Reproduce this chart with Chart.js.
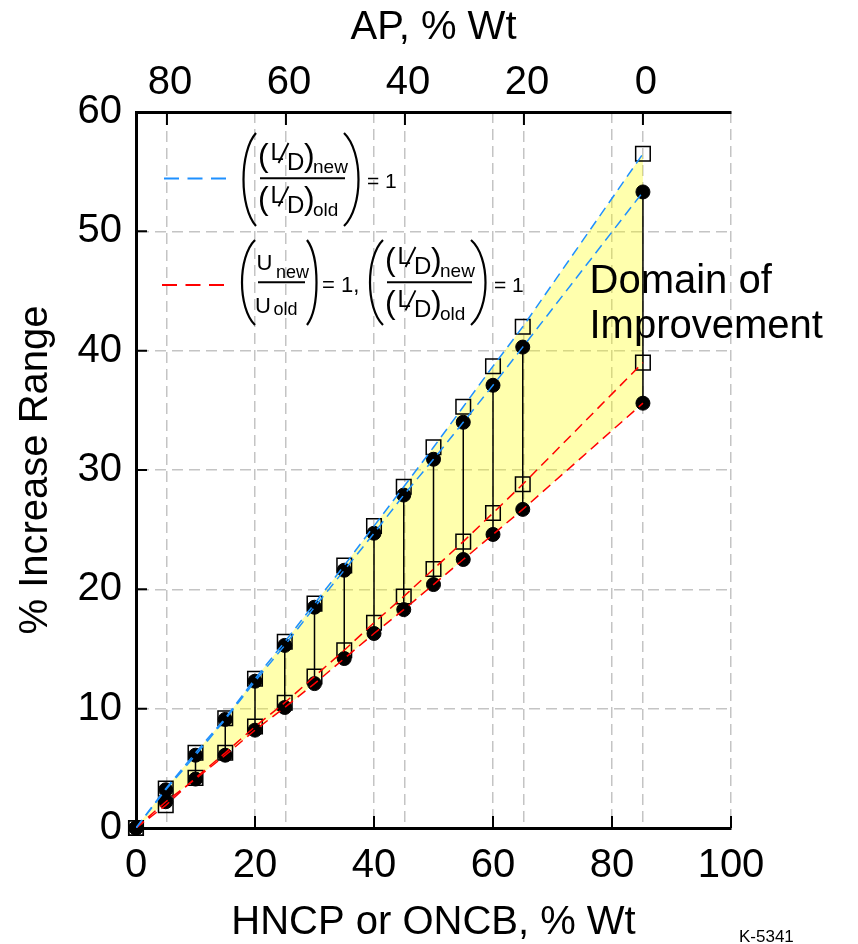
<!DOCTYPE html>
<html>
<head>
<meta charset="utf-8">
<title>% Increase Range vs HNCP/ONCB</title>
<script src="https://cdn.jsdelivr.net/npm/chart.js@4.4.0/dist/chart.umd.min.js"></script>
<style>
  html, body { margin: 0; padding: 0; background: #fff; }
</style>
</head>
<body>
<canvas id="chart-range" width="858" height="944"></canvas>
<script>
/**
 * % increase in range vs HNCP (or ONCB) weight fraction, AP on the top axis.
 * Squares / circles for the two (L/D) = 1 cases, yellow band = domain of improvement.
 */

const FONT = '"Liberation Sans", Arial, Helvetica, sans-serif';

// HNCP or ONCB, % Wt (last formulation has no AP left)
const hncpPct = [0, 5, 10, 15, 20, 25, 30, 35, 40, 45, 50, 55, 60, 65, 85.2];
// AP % Wt = AP_TOTAL - HNCP % Wt
const AP_TOTAL = 85.2;

// (L/D)new/(L/D)old = 1  -> blue dashed
const ldSquares = [0, 3.3, 6.3, 9.2, 12.5, 15.6, 18.8, 22.0, 25.3, 28.6, 31.9, 35.3, 38.7, 42.0, 56.5];
const ldCircles = [0, 3.2, 6.1, 9.1, 12.3, 15.3, 18.5, 21.6, 24.7, 27.9, 30.9, 34.0, 37.1, 40.3, 53.3];
// Unew/Uold = 1 and (L/D)new/(L/D)old = 1  -> red dashed
const uSquares = [0, 1.9, 4.2, 6.3, 8.5, 10.5, 12.7, 14.9, 17.2, 19.4, 21.7, 24.0, 26.4, 28.8, 39.0];
const uCircles = [0, 2.2, 4.1, 6.1, 8.2, 10.1, 12.1, 14.2, 16.3, 18.3, 20.4, 22.5, 24.6, 26.7, 35.6];

const apTicks = [80, 60, 40, 20, 0];

const BLUE = '#1e90ff';
const RED = '#ff0000';
const GRID = '#c4c4c4';

function pts(ys) {
    return hncpPct.map((x, i) => ({ x: x, y: ys[i] }));
}

// vertical connectors between the two circles at each composition
const connectorPts = [];
hncpPct.forEach((x, i) => {
    connectorPts.push({ x: x, y: ldCircles[i] }, { x: x, y: uCircles[i] }, { x: x, y: null });
});

function dashed(data, color) {
    return {
        data: data, borderColor: color, borderWidth: 1.5, borderDash: [10, 6],
        pointRadius: 0, fill: false, tension: 0, order: 0,
    };
}

function markers(data, style) {
    const sq = style === 'rect';
    return {
        data: data, showLine: false, clip: false, order: 1,
        pointStyle: style,
        pointRadius: sq ? 10.3 : 7,
        borderColor: '#000',
        borderWidth: sq ? 1.5 : 1,
        backgroundColor: sq ? 'rgba(0,0,0,0)' : '#000',
    };
}

// ---- annotation helpers ----
function paren(ctx, xEnd, xBulge, top, bottom) {
    const xc = (xBulge - 0.25 * xEnd) / 0.75;
    const h = bottom - top;
    ctx.beginPath();
    ctx.moveTo(xEnd, top);
    ctx.bezierCurveTo(xc, top + h * 0.2, xc, bottom - h * 0.2, xEnd, bottom);
    ctx.stroke();
}

function drawLD(ctx, x, base, sub) {
    ctx.font = '32px ' + FONT;
    ctx.fillText('(', x - 2, base);
    ctx.fillText(')', x + 44, base);
    ctx.font = '24px ' + FONT;
    ctx.fillText('L', x + 10.5, base - 6);
    ctx.fillText('D', x + 27, base + 4);
    ctx.font = '19px ' + FONT;
    ctx.fillText(sub, x + 53, base + 7);
    ctx.lineWidth = 1.8;
    ctx.beginPath();
    ctx.moveTo(x + 18.5, base - 3);
    ctx.lineTo(x + 28.5, base - 23);
    ctx.stroke();
}

function bar(ctx, x1, x2, y) {
    ctx.lineWidth = 2;
    ctx.beginPath();
    ctx.moveTo(x1, y);
    ctx.lineTo(x2, y);
    ctx.stroke();
}

function legendDash(ctx, x1, x2, y, color) {
    ctx.save();
    ctx.strokeStyle = color;
    ctx.lineWidth = 2;
    ctx.setLineDash([15, 8.5]);
    ctx.beginPath();
    ctx.moveTo(x1, y);
    ctx.lineTo(x2, y);
    ctx.stroke();
    ctx.restore();
}

const annotations = {
    id: 'annotations',
    afterDraw(chart) {
        const { ctx, chartArea: a, scales } = chart;
        ctx.save();

        // inward tick marks
        ctx.strokeStyle = '#000';
        ctx.lineWidth = 2;
        ctx.beginPath();
        scales.x.ticks.forEach(t => {
            const px = scales.x.getPixelForValue(t.value);
            if (px > a.left + 2) { ctx.moveTo(px, a.bottom); ctx.lineTo(px, a.bottom - 12); }
        });
        scales.x2.ticks.forEach(t => {
            const px = scales.x2.getPixelForValue(t.value);
            if (px > a.left + 2 && px < a.right - 2) { ctx.moveTo(px, a.top); ctx.lineTo(px, a.top + 13); }
        });
        scales.y.ticks.forEach(t => {
            const py = scales.y.getPixelForValue(t.value);
            if (py > a.top + 2 && py < a.bottom - 2) { ctx.moveTo(a.left, py); ctx.lineTo(a.left + 11, py); }
        });
        ctx.stroke();

        // legend
        ctx.fillStyle = '#000';
        ctx.textBaseline = 'alphabetic';
        ctx.textAlign = 'left';

        legendDash(ctx, 164, 227, 178.5, BLUE);
        ctx.strokeStyle = '#000';
        ctx.lineWidth = 2.2;
        paren(ctx, 256, 243.5, 133, 226);
        paren(ctx, 344, 358.5, 133, 226);
        drawLD(ctx, 260, 166, 'new');
        drawLD(ctx, 260, 209.3, 'old');
        bar(ctx, 260, 345, 178.3);
        ctx.font = '21px ' + FONT;
        ctx.fillText('= 1', 367, 188);

        legendDash(ctx, 162, 226, 285, RED);
        ctx.lineWidth = 2.2;
        paren(ctx, 255, 242, 240, 325);
        paren(ctx, 307, 316.5, 240, 325);
        ctx.font = '22px ' + FONT;
        ctx.fillText('U', 256.5, 270);
        ctx.fillText('U', 255, 313);
        ctx.font = '18px ' + FONT;
        ctx.fillText('new', 276, 278);
        ctx.fillText('old', 273.5, 315);
        bar(ctx, 258, 305, 282.3);
        ctx.font = '22px ' + FONT;
        ctx.fillText('= 1,', 322, 292);
        ctx.lineWidth = 2.2;
        paren(ctx, 383, 370, 240, 325);
        paren(ctx, 471, 485.5, 240, 325);
        drawLD(ctx, 387, 270, 'new');
        drawLD(ctx, 387, 313.3, 'old');
        bar(ctx, 387, 472, 282.3);
        ctx.font = '21px ' + FONT;
        ctx.fillText('= 1', 494, 292);

        // in-plot label
        ctx.font = '40px ' + FONT;
        ctx.fillText('Domain of', 589.5, 293);
        ctx.fillText('Improvement', 589.5, 338);

        // drawing number
        ctx.font = '17px ' + FONT;
        ctx.fillText('K-5341', 739, 942);

        ctx.restore();
    },
};

const canvas = document.getElementById('chart-range');

new Chart(canvas, {
    type: 'line',
    data: {
        datasets: [
            dashed(pts(ldSquares), BLUE),          // 0
            dashed(pts(ldCircles), BLUE),          // 1
            dashed(pts(uSquares), RED),            // 2
            dashed(pts(uCircles), RED),            // 3
            markers(pts(ldSquares), 'rect'),       // 4
            markers(pts(ldCircles), 'circle'),     // 5
            markers(pts(uSquares), 'rect'),        // 6
            markers(pts(uCircles), 'circle'),      // 7
            {                                      // 8 connectors
                data: connectorPts, borderColor: '#000', borderWidth: 1.5,
                pointRadius: 0, spanGaps: false, clip: false, order: 2,
            },
            {                                      // 9 domain of improvement band
                data: pts(ldSquares), borderWidth: 0, borderColor: 'rgba(0,0,0,0)',
                pointRadius: 0, fill: 3, backgroundColor: 'rgba(255,255,0,0.32)', order: 3,
            },
        ],
    },
    options: {
        responsive: false,
        devicePixelRatio: 1,
        animation: false,
        events: [],
        layout: { padding: { top: 0, left: 0, bottom: 0, right: 127 } },
        plugins: {
            legend: { display: false },
            tooltip: { enabled: false },
        },
        scales: {
            x: {
                type: 'linear',
                position: 'bottom',
                min: 0,
                max: 100,
                ticks: {
                    stepSize: 20, padding: 14, maxRotation: 0, color: '#000',
                    font: { family: FONT, size: 40 },
                },
                grid: { color: GRID, lineWidth: 1.5, drawTicks: false },
                border: { color: '#000', width: 3, dash: [11, 6] },
                title: {
                    display: true, text: 'HNCP or ONCB, % Wt', color: '#000',
                    font: { family: FONT, size: 40, lineHeight: 1 }, padding: { top: 0, bottom: 1 },
                },
                afterFit: s => { s.height = 116; },
            },
            x2: {
                type: 'linear',
                position: 'top',
                reverse: true,
                min: AP_TOTAL - 100,
                max: AP_TOTAL,
                afterBuildTicks: s => { s.ticks = apTicks.map(v => ({ value: v })); },
                ticks: {
                    padding: 5, maxRotation: 0, autoSkip: false, color: '#000', labelOffset: 3,
                    font: { family: FONT, size: 40 },
                },
                grid: { color: GRID, lineWidth: 1.5, drawTicks: false },
                border: { color: '#000', width: 3, dash: [11, 6] },
                title: {
                    display: true, text: 'AP, % Wt', color: '#000',
                    font: { family: FONT, size: 40, lineHeight: 1 }, padding: { top: 8, bottom: 0 },
                },
                afterFit: s => { s.height = 112; },
            },
            y: {
                type: 'linear',
                position: 'left',
                min: 0,
                max: 60,
                ticks: {
                    stepSize: 10, padding: 14, color: '#000',
                    font: { family: FONT, size: 40 },
                },
                grid: { color: GRID, lineWidth: 1.5, drawTicks: false },
                border: { color: '#000', width: 3, dash: [11, 6] },
                title: {
                    display: true, text: '% Increase Range', color: '#000',
                    font: { family: FONT, size: 40, lineHeight: 1 }, padding: { top: 16, bottom: 0 },
                },
                afterFit: s => { s.width = 136; },
            },
        },
    },
    plugins: [annotations],
});
</script>
</body>
</html>
